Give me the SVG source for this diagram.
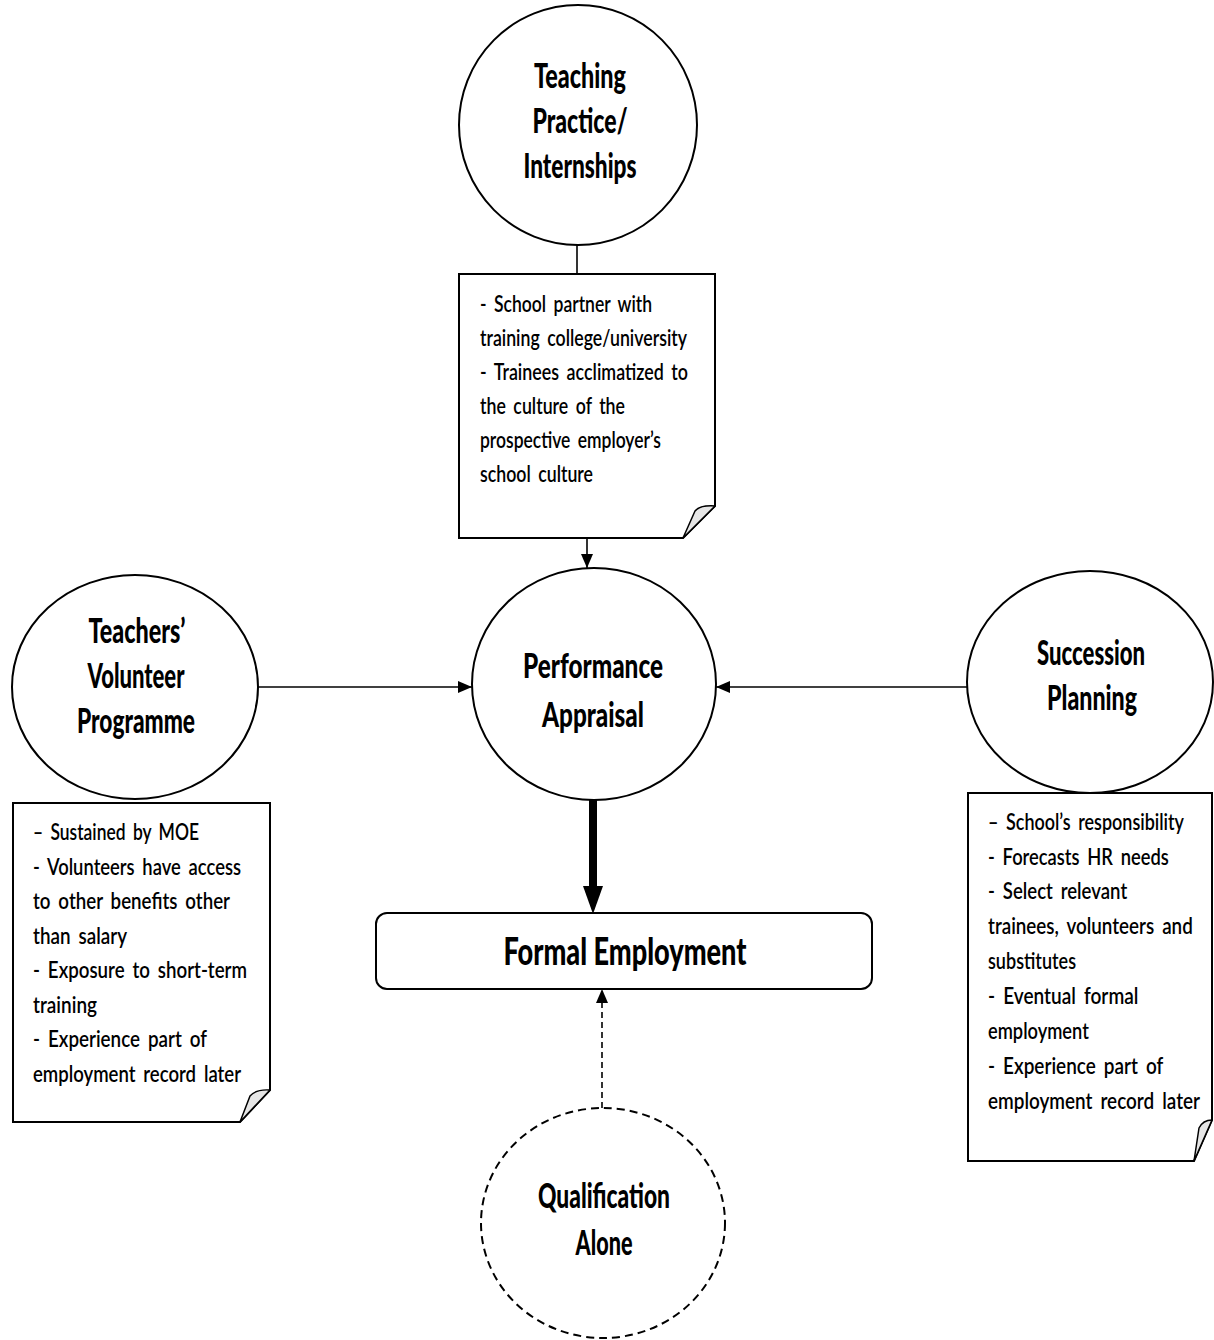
<svg xmlns="http://www.w3.org/2000/svg" width="1214" height="1340" viewBox="0 0 1214 1340">
<style>
.node{fill:#fff;stroke:#000;stroke-width:2}
.dash{fill:#fff;stroke:#000;stroke-width:2;stroke-dasharray:8 5}
.title{font-family:Lato,"Liberation Sans",sans-serif;font-weight:900;font-size:34px;fill:#000;text-anchor:middle}
.big{font-size:38px}
.note{font-family:Lato,"Liberation Sans",sans-serif;font-weight:600;font-size:23px;word-spacing:4px;fill:#000}
.flap{fill:#e6e6e6;stroke:#000;stroke-width:1.5;stroke-linejoin:round}
.conn{stroke:#000;stroke-width:1.6;fill:none}
</style>
<defs>
<marker id="ah" markerUnits="userSpaceOnUse" markerWidth="14" markerHeight="12" refX="14" refY="6" orient="auto">
<path d="M0,0 L14,6 L0,12 Z" fill="#000"/>
</marker>
<marker id="ahBig" markerUnits="userSpaceOnUse" markerWidth="28" markerHeight="20" refX="0" refY="10" orient="auto">
<path d="M0,0 L28,10 L0,20 Z" fill="#000"/>
</marker>
</defs>
<rect width="1214" height="1340" fill="#fff"/>

<g id="connectors">
<line class="conn" x1="577" y1="245" x2="577" y2="274"/>
<line class="conn" x1="587" y1="538" x2="587" y2="568" marker-end="url(#ah)"/>
<line class="conn" x1="258" y1="687" x2="472" y2="687" marker-end="url(#ah)"/>
<line class="conn" x1="967" y1="687" x2="716" y2="687" marker-end="url(#ah)"/>
<line x1="593" y1="800" x2="593" y2="886" stroke="#000" stroke-width="8" marker-end="url(#ahBig)"/>
<line class="conn" x1="602" y1="1108" x2="602" y2="989" stroke-dasharray="6 4" marker-end="url(#ah)"/>
</g>

<g id="teaching">
<ellipse class="node" cx="578" cy="125" rx="119" ry="120"/>
<text class="title" x="580" y="88" textLength="92" lengthAdjust="spacingAndGlyphs">Teaching</text>
<text class="title" x="580" y="133" textLength="95" lengthAdjust="spacingAndGlyphs">Practice/</text>
<text class="title" x="580" y="178" textLength="113" lengthAdjust="spacingAndGlyphs">Internships</text>
</g>

<g id="teaching-note">
<path class="node" d="M459,274 L715,274 L715,506 L683,538 L459,538 Z"/>
<path class="flap" d="M683,538 L695,511 Q700,505 715,506 Z"/>
<text class="note" x="480" y="312" textLength="172" lengthAdjust="spacingAndGlyphs">- School partner with</text>
<text class="note" x="480" y="346" textLength="207" lengthAdjust="spacingAndGlyphs">training college/university</text>
<text class="note" x="480" y="380" textLength="208" lengthAdjust="spacingAndGlyphs">- Trainees acclimatized to</text>
<text class="note" x="480" y="414" textLength="145" lengthAdjust="spacingAndGlyphs">the culture of the</text>
<text class="note" x="480" y="448" textLength="181" lengthAdjust="spacingAndGlyphs">prospective employer’s</text>
<text class="note" x="480" y="482" textLength="113" lengthAdjust="spacingAndGlyphs">school culture</text>
</g>

<g id="performance">
<ellipse class="node" cx="594" cy="684" rx="122" ry="116"/>
<text class="title" x="593" y="678" textLength="140" lengthAdjust="spacingAndGlyphs">Performance</text>
<text class="title" x="593" y="727" textLength="102" lengthAdjust="spacingAndGlyphs">Appraisal</text>
</g>

<g id="volunteer">
<ellipse class="node" cx="135" cy="687" rx="123" ry="112"/>
<text class="title" x="137" y="643" textLength="97" lengthAdjust="spacingAndGlyphs">Teachers’</text>
<text class="title" x="136" y="688" textLength="97" lengthAdjust="spacingAndGlyphs">Volunteer</text>
<text class="title" x="136" y="733" textLength="118" lengthAdjust="spacingAndGlyphs">Programme</text>
</g>

<g id="volunteer-note">
<path class="node" d="M13,803 L270,803 L270,1090 L240,1122 L13,1122 Z"/>
<path class="flap" d="M240,1122 L250,1096 Q256,1089 270,1090 Z"/>
<text class="note" x="33" y="840" textLength="166" lengthAdjust="spacingAndGlyphs">– Sustained by MOE</text>
<text class="note" x="33" y="875" textLength="208" lengthAdjust="spacingAndGlyphs">- Volunteers have access</text>
<text class="note" x="33" y="909" textLength="197" lengthAdjust="spacingAndGlyphs">to other benefits other</text>
<text class="note" x="33" y="944" textLength="94" lengthAdjust="spacingAndGlyphs">than salary</text>
<text class="note" x="33" y="978" textLength="214" lengthAdjust="spacingAndGlyphs">- Exposure to short-term</text>
<text class="note" x="33" y="1013" textLength="64" lengthAdjust="spacingAndGlyphs">training</text>
<text class="note" x="33" y="1047" textLength="174" lengthAdjust="spacingAndGlyphs">- Experience part of</text>
<text class="note" x="33" y="1082" textLength="208" lengthAdjust="spacingAndGlyphs">employment record later</text>
</g>

<g id="succession">
<ellipse class="node" cx="1090" cy="682" rx="123" ry="111"/>
<text class="title" x="1091" y="665" textLength="108" lengthAdjust="spacingAndGlyphs">Succession</text>
<text class="title" x="1092" y="710" textLength="90" lengthAdjust="spacingAndGlyphs">Planning</text>
</g>

<g id="succession-note">
<path class="node" d="M968,793 L1212,793 L1212,1120 L1194,1161 L968,1161 Z"/>
<path class="flap" d="M1194,1161 L1199,1128 Q1203,1120 1212,1120 Z"/>
<g transform="matrix(0.8 0 0 1 988 0)">
<text class="note" x="0" y="830" textLength="245" lengthAdjust="spacingAndGlyphs">– School’s responsibility</text>
<text class="note" x="0" y="865" textLength="226" lengthAdjust="spacingAndGlyphs">- Forecasts HR needs</text>
<text class="note" x="0" y="899" textLength="174" lengthAdjust="spacingAndGlyphs">- Select relevant</text>
<text class="note" x="0" y="934" textLength="256" lengthAdjust="spacingAndGlyphs">trainees, volunteers and</text>
<text class="note" x="0" y="969" textLength="110" lengthAdjust="spacingAndGlyphs">substitutes</text>
<text class="note" x="0" y="1004" textLength="188" lengthAdjust="spacingAndGlyphs">- Eventual formal</text>
<text class="note" x="0" y="1039" textLength="126" lengthAdjust="spacingAndGlyphs">employment</text>
<text class="note" x="0" y="1074" textLength="219" lengthAdjust="spacingAndGlyphs">- Experience part of</text>
<text class="note" x="0" y="1109" textLength="265" lengthAdjust="spacingAndGlyphs">employment record later</text>
</g>
</g>

<g id="formal-employment">
<rect class="node" x="376" y="913" width="496" height="76" rx="11" ry="11"/>
<text class="title big" x="625" y="965" textLength="243" lengthAdjust="spacingAndGlyphs">Formal Employment</text>
</g>

<g id="qualification">
<ellipse class="dash" cx="603" cy="1223" rx="122" ry="115"/>
<text class="title" x="604" y="1208" textLength="132" lengthAdjust="spacingAndGlyphs">Qualification</text>
<text class="title" x="604" y="1255" textLength="57" lengthAdjust="spacingAndGlyphs">Alone</text>
</g>
</svg>
